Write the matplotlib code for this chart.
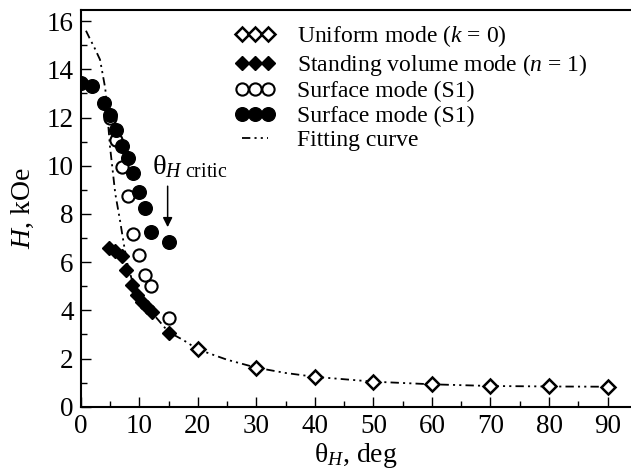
import matplotlib
matplotlib.use("Agg")
import matplotlib.pyplot as plt
from matplotlib.ticker import MultipleLocator

plt.rcParams['font.family'] = ['Liberation Serif', 'DejaVu Serif']
plt.rcParams['mathtext.fontset'] = 'custom'
plt.rcParams['mathtext.rm'] = 'Liberation Serif'
plt.rcParams['mathtext.it'] = 'Liberation Serif:italic'
plt.rcParams['lines.scale_dashes'] = False

# ---- data ----
uniform_x = [20, 30, 40, 50, 60, 70, 80, 90]
uniform_H = [2.38, 1.62, 1.24, 1.04, 0.93, 0.86, 0.84, 0.83]

standing_x = [4.8, 5.9, 7.0, 7.8, 8.8, 9.6, 10.4, 11.3, 12.1, 15.0]
standing_H = [6.6, 6.45, 6.25, 5.68, 5.05, 4.63, 4.36, 4.15, 3.95, 3.05]

surf_open_x = [5, 6, 7, 8, 9, 10, 11, 12, 15]
surf_open_H = [12.0, 11.05, 9.95, 8.75, 7.15, 6.3, 5.45, 5.0, 3.7]

surf_fill_x = [0, 2, 4, 5, 6, 7, 8, 9, 10, 11, 12, 15]
surf_fill_H = [13.45, 13.3, 12.6, 12.1, 11.5, 10.8, 10.3, 9.7, 8.9, 8.25, 7.25, 6.85]

fit_x = [0.9, 1.5, 2.4, 3.3, 4.2, 5.0, 5.9, 6.7, 7.4, 8.0, 9.0, 10.0, 11.0, 12.0,
         13.0, 15.0, 17.5, 20, 25, 30, 35, 40, 50, 60, 70, 80, 90]
fit_H = [15.6, 15.3, 14.87, 14.4, 13.2, 10.8, 8.85, 7.75, 6.7, 5.9, 5.05, 4.55, 4.2,
         3.95, 3.67, 3.1, 2.77, 2.38, 1.95, 1.62, 1.4, 1.24, 1.04, 0.93, 0.86, 0.84, 0.83]

labels = ["Uniform mode ($k$ = 0)",
          "Standing volume mode ($n$ = 1)",
          "Surface mode (S1)",
          "Surface mode (S1)",
          "Fitting curve"]

# ---- figure ----
fig = plt.figure(figsize=(6.31, 4.72), dpi=100)
ax = fig.add_axes([0.1279, 0.1383, 0.8721, 0.8405])

dash = (0, (6, 3, 1.5, 3, 1.5, 3))
l_fit, = ax.plot(fit_x, fit_H, color='black', lw=1.3, linestyle=dash, zorder=2)
l_uni, = ax.plot(uniform_x, uniform_H, linestyle='none', marker='D', ms=7.3,
                 mfc='white', mec='black', mew=1.8, zorder=3)
l_std, = ax.plot(standing_x, standing_H, linestyle='none', marker='D', ms=7.6,
                 mfc='black', mec='black', mew=1.0, zorder=3)
l_so, = ax.plot(surf_open_x, surf_open_H, linestyle='none', marker='o', ms=8.8,
                mfc='white', mec='black', mew=1.5, zorder=4)
l_sf, = ax.plot(surf_fill_x, surf_fill_H, linestyle='none', marker='o', ms=9.8,
                mfc='black', mec='black', mew=1.0, zorder=5)

ax.set_xlim(0, 94)
ax.set_ylim(0, 16.46)
ax.xaxis.set_major_locator(MultipleLocator(10))
ax.xaxis.set_minor_locator(MultipleLocator(5))
ax.yaxis.set_major_locator(MultipleLocator(2))
ax.yaxis.set_minor_locator(MultipleLocator(1))
ax.tick_params(which='both', direction='in', top=False, right=False,
               labelsize=19.5, width=1.0)
ax.tick_params(which='major', length=7, pad=5)
ax.tick_params(which='minor', length=4)
for s in ax.spines.values():
    s.set_linewidth(1.5)
ax.spines['right'].set_visible(False)

ax.set_xlabel("θ$_H$, deg", fontsize=20, labelpad=2)
ax.set_ylabel("$H$, kOe", fontsize=20, labelpad=8)

ax.annotate("", xy=(14.85, 7.45), xytext=(14.85, 9.15),
            arrowprops=dict(arrowstyle='-|>', color='black', lw=1.1,
                            mutation_scale=14, shrinkA=0, shrinkB=0))
ax.text(12.2, 9.95, "θ$_{H\\ \\mathrm{critic}}$", fontsize=20.5, va='center', ha='left')

leg = ax.legend([l_uni, l_std, l_so, l_sf, l_fit], labels, loc='upper left',
                bbox_to_anchor=(0.3645, 0.9607), bbox_transform=fig.transFigure,
                frameon=False, numpoints=3, handlelength=1.7, handletextpad=0.95,
                labelspacing=0.12, fontsize=17, borderaxespad=0, borderpad=0.2)

fig.savefig("out.png", dpi=100)
